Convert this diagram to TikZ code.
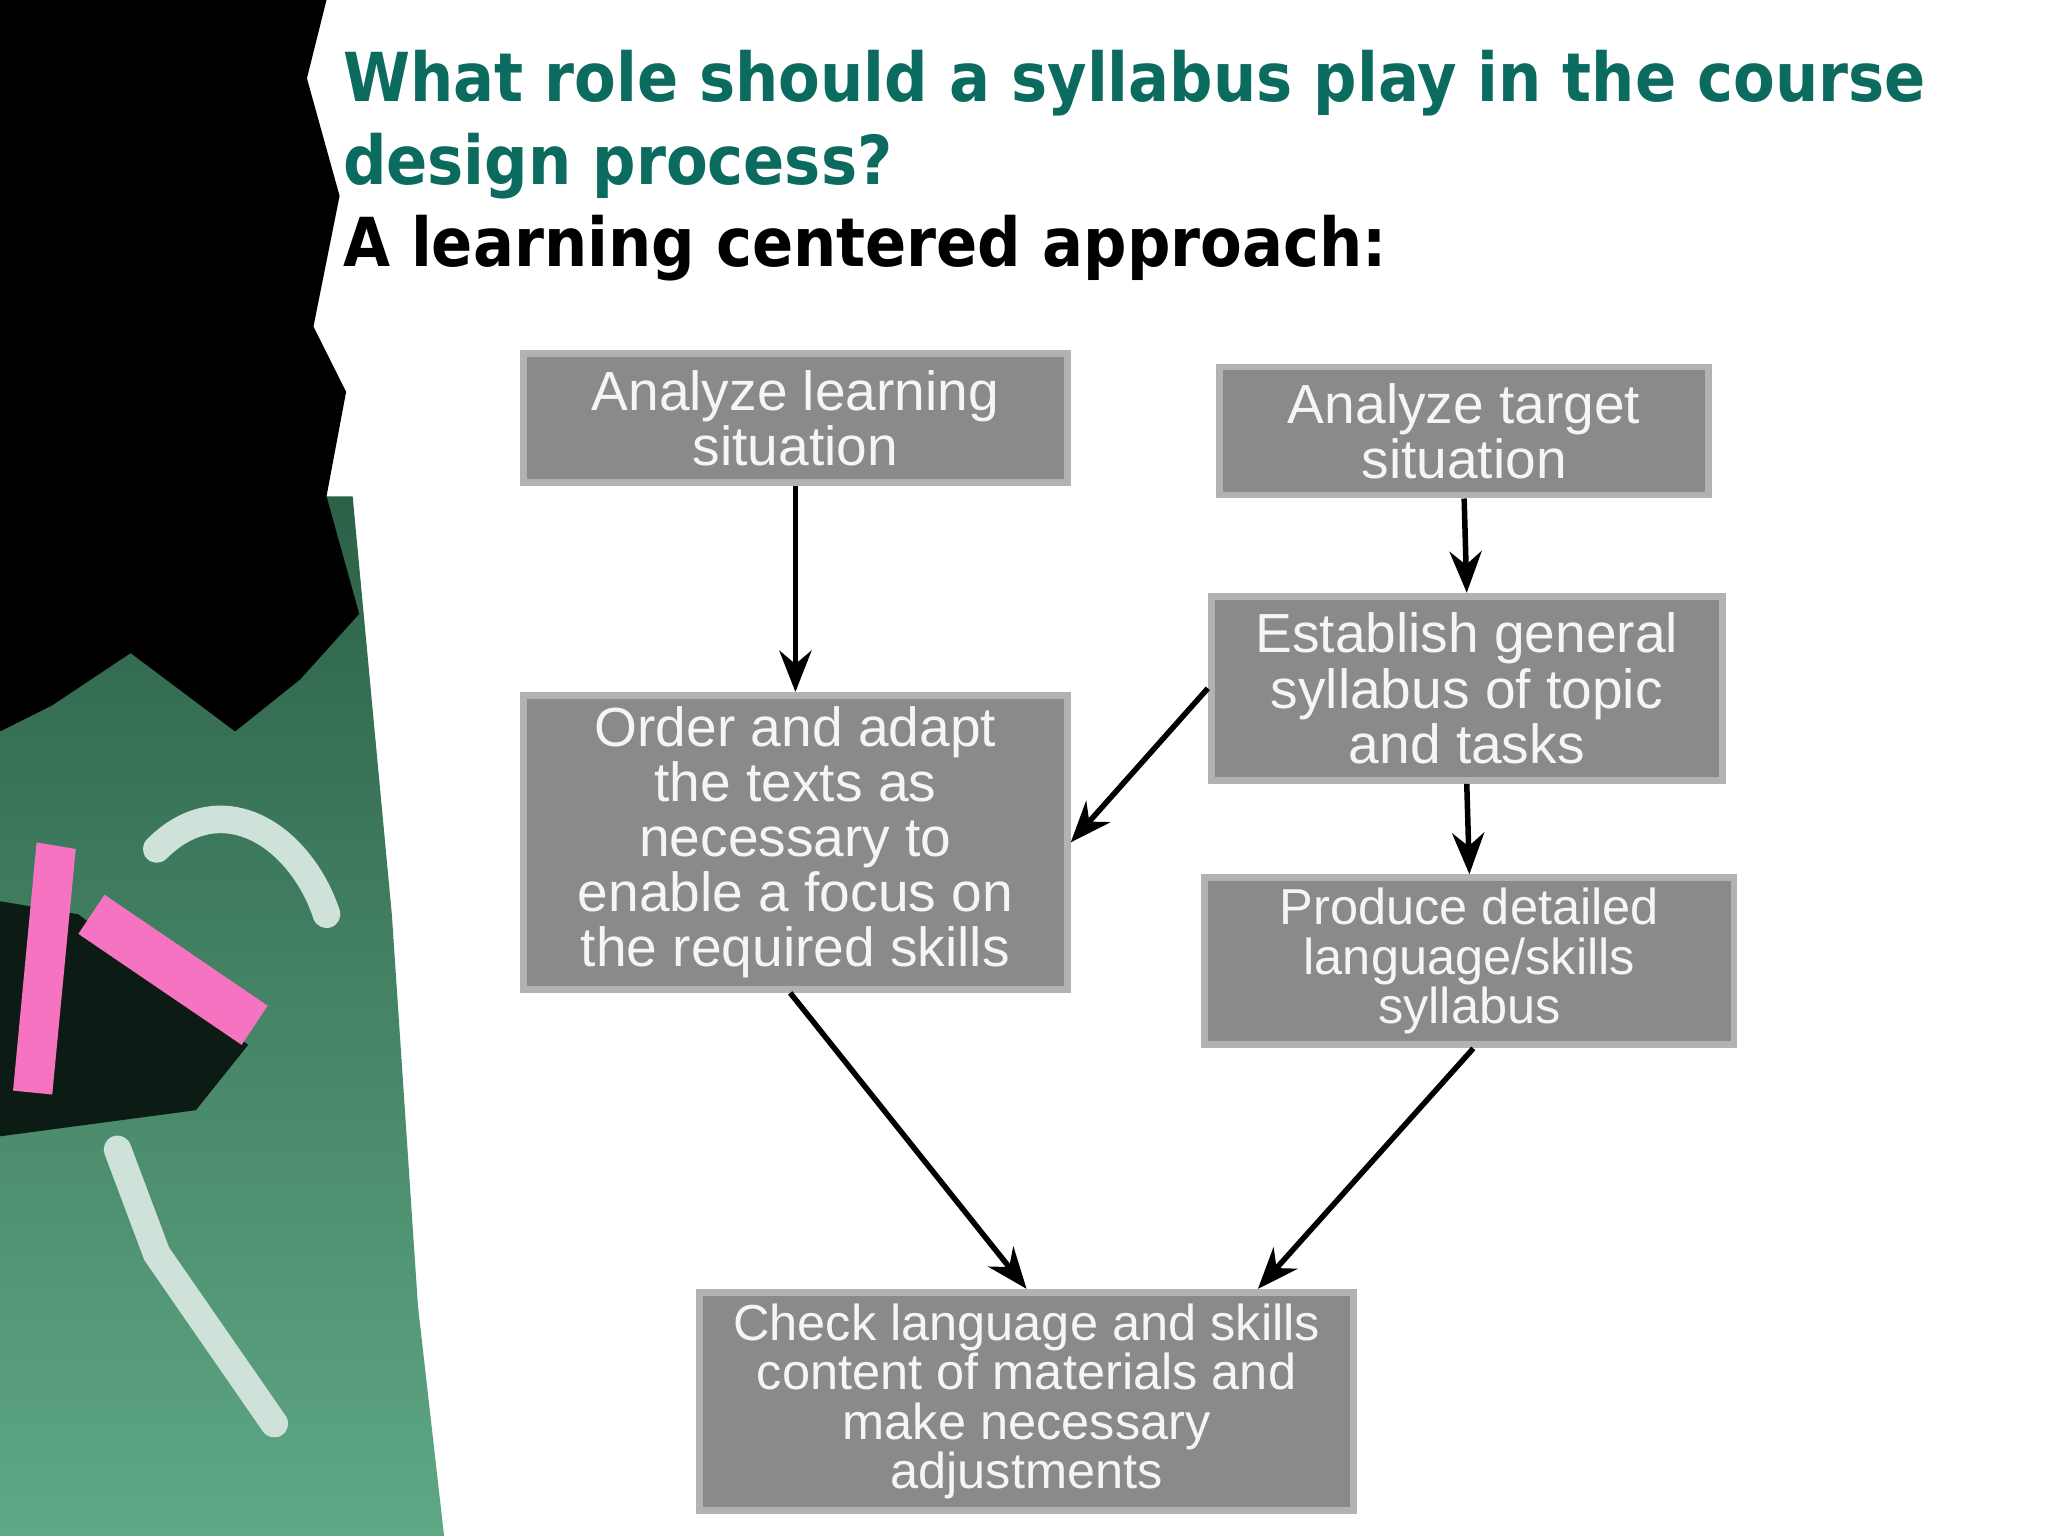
\documentclass[tikz,border=0pt]{standalone}
\usepackage{fontspec}
\setmainfont{Liberation Sans}
\newfontfamily\titlef{DejaVu Sans Condensed}
\usetikzlibrary{arrows.meta}
\definecolor{boxg}{HTML}{8A898B}
\definecolor{teal}{HTML}{0B6B5F}
\definecolor{board}{HTML}{3E8A66}
\definecolor{boardl}{HTML}{5FA885}
\begin{document}
\begin{tikzpicture}[x=0.01cm,y=-0.01cm,
 bx/.style={draw=gray!60,line width=1.5pt,fill=boxg,text=white!92!gray,align=center,inner sep=0pt,font=\fontsize{12}{12}\selectfont},
 ttl/.style={anchor=base west,inner sep=0pt,font=\titlef\bfseries\fontsize{14.7}{18}\selectfont},
 ar/.style={-{Stealth[length=9pt,width=7pt]},line width=1.2pt}]
\useasboundingbox (0,0) rectangle (1568,1176);
\fill[white] (0,0) rectangle (1568,1176);
% chalkboard strip
\shade[top color=board!70!black,bottom color=boardl] (0,380) -- (270,380) -- (300,700) -- (320,1000) -- (340,1176) -- (0,1176) -- cycle;
\fill[black] (0,0) -- (250,0) -- (235,60) -- (260,150) -- (240,250) -- (265,300) -- (250,380) -- (275,470) -- (230,520) -- (180,560) -- (100,500) -- (40,540) -- (0,560) -- cycle;
\fill[black!80!board] (0,690) -- (60,700) -- (190,800) -- (150,850) -- (0,870) -- cycle;
\fill[magenta!55!white] (10,835) -- (40,838) -- (58,650) -- (28,645) -- cycle;
\fill[magenta!55!white] (60,715) -- (80,685) -- (205,770) -- (185,800) -- cycle;
\draw[white!75!board,line width=6pt,line cap=round] (120,650) .. controls (170,600) and (230,640) .. (250,700);
\draw[white!75!board,line width=6pt,line cap=round] (90,880) -- (120,960) -- (210,1090);
% titles
\node[ttl,text=teal] at (262,78) {What role should a syllabus play in the course};
\node[ttl,text=teal] at (262,141) {design process?};
\node[ttl,text=black] at (262,204) {A learning centered approach:};
% boxes
\node[bx,minimum width=4.16cm,minimum height=0.99cm] (A) at (609,320) {Analyze learning\\situation};
\node[bx,minimum width=3.74cm,minimum height=0.98cm] (B) at (1121,330) {Analyze target\\situation};
\node[bx,minimum width=3.91cm,minimum height=1.41cm] (C) at (1123,527) {Establish general\\syllabus of topic\\and tasks};
\node[bx,minimum width=4.16cm,minimum height=2.25cm] (D) at (609,645) {Order and adapt\\the texts as\\necessary to\\enable a focus on\\the required skills};
\node[bx,minimum width=4.05cm,minimum height=1.28cm,font=\fontsize{11}{10.8}\selectfont] (E) at (1125,736) {Produce detailed\\language/skills\\syllabus};
\node[bx,minimum width=5.0cm,minimum height=1.67cm,font=\fontsize{11}{10.8}\selectfont] (F) at (786,1073) {Check language and skills\\content of materials and\\make necessary\\adjustments};
% arrows
\draw[ar] (A.south) -- (D.north);
\draw[ar] (B.south) -- (C.north);
\draw[ar] (C.south) -- (E.north);
\draw[ar] (C.west) -- (D.east);
\draw[ar] ([xshift=-0.04cm]D.south) -- (F.north);
\draw[ar] ([xshift=0.03cm]E.south) -- ([xshift=1.77cm]F.north);
\end{tikzpicture}
\end{document}
